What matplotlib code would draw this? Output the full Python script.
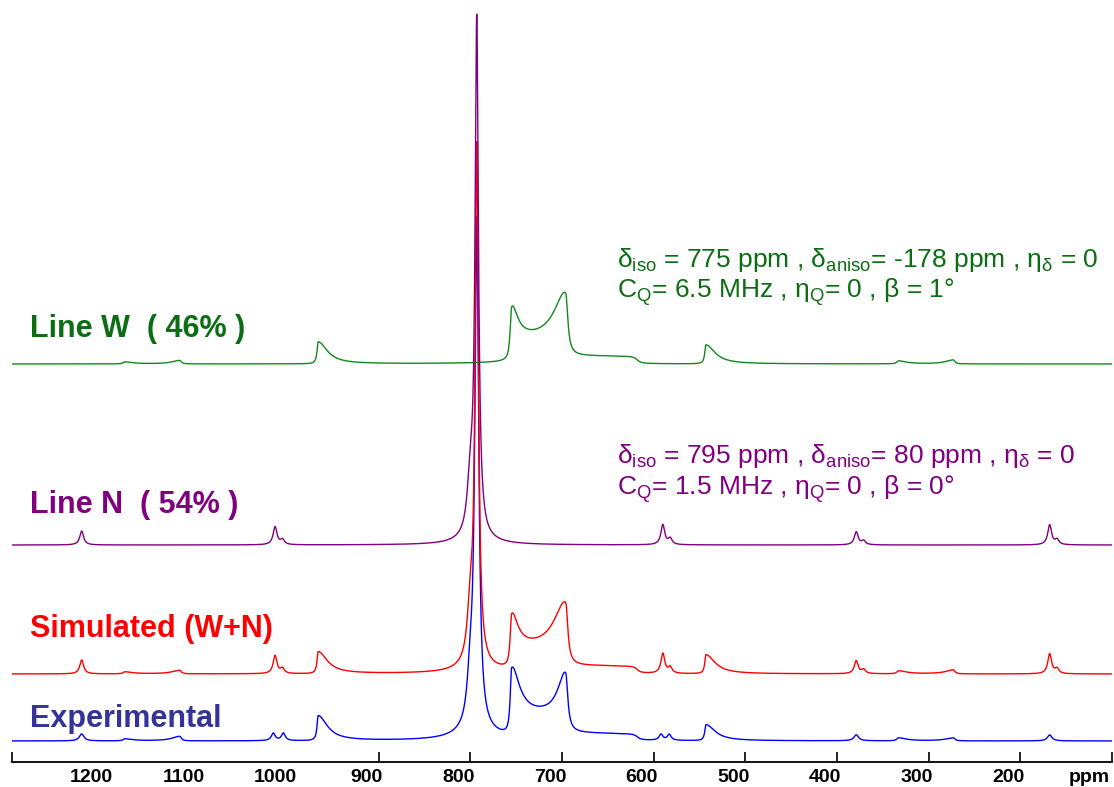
import matplotlib
matplotlib.use('Agg')
import matplotlib.pyplot as plt
import numpy as np

plt.rcParams['font.family'] = ['Liberation Sans', 'DejaVu Sans']
plt.rcParams['mathtext.fontset'] = 'custom'
plt.rcParams['mathtext.rm'] = 'Liberation Sans'
plt.rcParams['mathtext.default'] = 'regular'

GREEN_LINE = '#12891a'
GREEN_TXT = '#0b6e12'
PURPLE = '#800080'
RED = '#ff0000'
BLUE = '#0000ff'
NAVY = '#333399'

# ---- axis ----
XMAX, XMIN = 1287, 87
tick_pos = [1287, 887, 787, 687, 587, 487, 387, 287, 187, 87]
label_pos = [1200, 1100, 1000, 900, 800, 700, 600, 500, 400, 300, 200, 112]
label_txt = ['1200', '1100', '1000', '900', '800', '700', '600', '500', '400', '300', '200', 'ppm']

# ---- Line W (quadrupolar powder pattern) ----
W_pk_c  = [742, 683, 953, 530, 1164, 1104, 320, 260]
W_pk_h  = [35, 49, 22, 19, 2, 3.5, 3, 4]
W_pk_wl = [1.5, 15, 1.5, 1.5, 2, 10, 2, 10]
W_pk_wr = [8, 3, 12, 12, 10, 2, 10, 2]
W_box_lo = [681, 605]
W_box_hi = [744, 681]
W_box_h  = [24, 8]
W_box_w  = [1.5, 3]

# ---- Line N ----
N_c = [780, 787, 780, 1211, 1000, 992, 577, 569, 366, 358, 155, 147]
N_h = [515, 50, 4, 14, 18, 5, 20, 6, 13, 4, 20, 5]
N_w = [2.2, 4, 25, 2.5, 2.5, 2.5, 2.5, 2.5, 2.5, 2.5, 2.5, 2.5]

# ---- Experimental ----
E_c  = [780, 787, 780, 742, 683, 953, 530, 1211, 1164, 1104, 1002, 991, 579, 570, 366, 320, 260, 155]
E_h  = [505, 45, 8, 48, 45, 25, 16, 7, 2, 4.5, 7.5, 7.5, 6, 6, 6, 3, 3, 6]
E_wl = [2.5, 4, 25, 1.5, 10, 1.5, 1.5, 3, 2, 10, 2.5, 2.5, 2.5, 2.5, 3, 2, 10, 3]
E_wr = [2.5, 4, 25, 10, 3, 12, 12, 3, 10, 2, 2.5, 2.5, 2.5, 2.5, 3, 10, 2, 3]
E_box_lo = [681, 605]
E_box_hi = [744, 681]
E_box_h  = [24, 7]
E_box_w  = [1.5, 3]

# vertical offsets of the stacked traces
OFF_W, OFF_N, OFF_S, OFF_E = 398, 217, 88, 21


def peaks(x, cs, hs, wls, wrs):
    y = np.zeros_like(x)
    for c, h, wl, wr in zip(cs, hs, wls, wrs):
        w = np.where(x >= c, wl, wr)
        y += h / (1 + ((x - c) / w) ** 2)
    return y


def boxes(x, los, his, hs, ws):
    y = np.zeros_like(x)
    for lo, hi, h, w in zip(los, his, hs, ws):
        y += h / np.pi * (np.arctan((x - lo) / w) - np.arctan((x - hi) / w))
    return y


ppm = np.linspace(XMAX, XMIN, 8000)
specW = peaks(ppm, W_pk_c, W_pk_h, W_pk_wl, W_pk_wr) + boxes(ppm, W_box_lo, W_box_hi, W_box_h, W_box_w)
specN = peaks(ppm, N_c, N_h, N_w, N_w)
specS = specW + specN
specE = peaks(ppm, E_c, E_h, E_wl, E_wr) + boxes(ppm, E_box_lo, E_box_hi, E_box_h, E_box_w)

fig = plt.figure(figsize=(11.14, 7.87), dpi=100, facecolor='white')
ax = fig.add_axes([12 / 1114, 25 / 787, 1100 / 1114, 762 / 787])

ax.plot(ppm, specE + OFF_E, color=BLUE, lw=1.0, zorder=2)
ax.plot(ppm, specS + OFF_S, color=RED, lw=1.0, zorder=3)
ax.plot(ppm, specW + OFF_W, color=GREEN_LINE, lw=1.0, zorder=4)
ax.plot(ppm, specN + OFF_N, color=PURPLE, lw=1.0, zorder=5)

ax.set_xlim(XMAX, XMIN)
ax.set_ylim(0, 762)
for s in ['top', 'left', 'right']:
    ax.spines[s].set_visible(False)
ax.spines['bottom'].set_linewidth(1.3)
ax.set_yticks([])
ax.set_xticks(label_pos)
ax.set_xticklabels(label_txt, fontsize=14, fontweight='bold')
ax.set_xticks(tick_pos, minor=True)
ax.tick_params(axis='x', which='major', length=0, pad=5)
ax.tick_params(axis='x', which='minor', direction='in', length=7, width=1.2)

# trace labels
big = dict(fontsize=22, fontweight='bold', ha='left', va='baseline')
ax.text(1267, 425, 'Line W  ( 46% )', color=GREEN_TXT, **big)
ax.text(1267, 249, 'Line N  ( 54% )', color=PURPLE, **big)
ax.text(1267, 125, 'Simulated (W+N)', color=RED, **big)
ax.text(1267, 35, 'Experimental', color=NAVY, **big)

# fit parameters
par = dict(fontsize=19, ha='left', va='baseline')
ax.text(627, 495, 'δ$_{iso}$ = 775 ppm , δ$_{aniso}$= -178 ppm , η$_{δ}$ = 0',
        color=GREEN_TXT, **par)
ax.text(627, 464, 'C$_{Q}$= 6.5 MHz , η$_{Q}$= 0 , β = 1°', color=GREEN_TXT, **par)
ax.text(627, 299, 'δ$_{iso}$ = 795 ppm , δ$_{aniso}$= 80 ppm , η$_{δ}$ = 0',
        color=PURPLE, **par)
ax.text(627, 267, 'C$_{Q}$= 1.5 MHz , η$_{Q}$= 0 , β = 0°', color=PURPLE, **par)

fig.savefig('out.png', dpi=100, facecolor='white')
